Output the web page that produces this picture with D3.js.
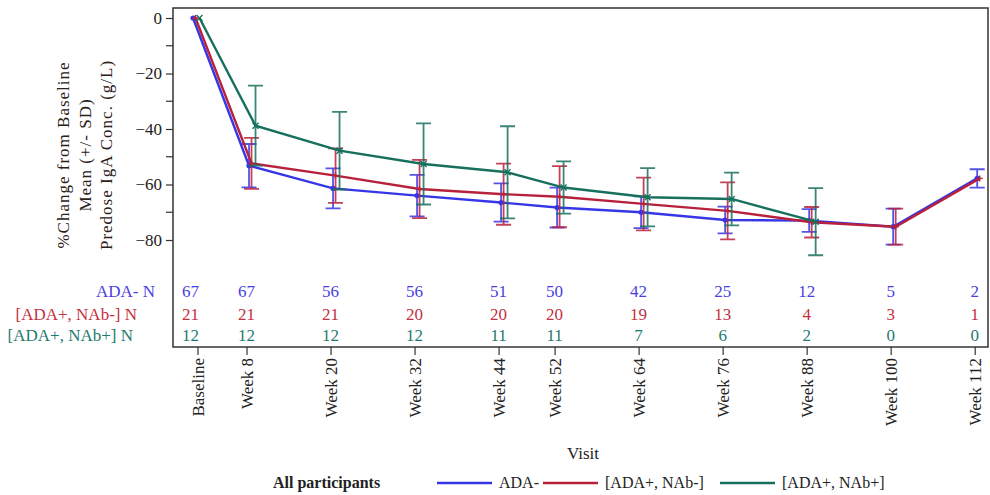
<!DOCTYPE html>
<html lang="en">
<head>
    <meta charset="UTF-8">
    <title>IgA change from baseline</title>
    <script src="https://cdn.jsdelivr.net/npm/d3@7"></script>
    <style>
        body { margin: 0; background: #fff; }
        text { font-family: "Liberation Serif", "Times New Roman", serif; }
    </style>
</head>
<body>
<script type="text/javascript">
    // data
    var visits = ['Baseline', 'Week 8', 'Week 20', 'Week 32', 'Week 44', 'Week 52', 'Week 64', 'Week 76', 'Week 88', 'Week 100', 'Week 112'];
    var weeks = [0, 8, 20, 32, 44, 52, 64, 76, 88, 100, 112];      // where the points sit
    var tickWeeks = [1, 8, 20, 32, 44, 52, 64, 76, 88, 100, 112];  // where the visit ticks sit

    var adaNegMean = [0, -53.2, -61.4, -64.0, -66.5, -68.3, -70.0, -72.8, -73.0, -75.2, -57.8];
    var adaNegSD = [0, 7.8, 7.2, 7.5, 6.9, 7.2, 5.7, 4.8, 4.1, 6.5, 3.3];
    var nabNegMean = [0, -52.4, -56.8, -61.6, -63.5, -64.4, -67.0, -69.5, -73.6, -75.2, -57.8];
    var nabNegSD = [0, 9.2, 9.8, 10.5, 11.0, 11.0, 9.5, 10.3, 5.5, 6.5, null];
    var nabPosMean = [0, -38.8, -47.8, -52.6, -55.6, -61.1, -64.6, -65.2, -73.4, null, null];
    var nabPosSD = [0, 14.4, 14.0, 14.6, 16.6, 9.4, 10.5, 9.5, 12.1, null, null];

    var adaNegN = [67, 67, 56, 56, 51, 50, 42, 25, 12, 5, 2];
    var nabNegN = [21, 21, 21, 20, 20, 20, 19, 13, 4, 3, 1];
    var nabPosN = [12, 12, 12, 12, 11, 11, 7, 6, 2, 0, 0];

    var yTicks = [0, -20, -40, -60, -80];
    var yMinorTicks = [-10, -30, -50, -70];

    var series = [
        {name: 'ADA-', label: 'ADA- N', mean: adaNegMean, sd: adaNegSD, n: adaNegN,
         color: '#3636e6', textColor: '#4a3fe0', marker: 'circle', dx: 2.5},
        {name: '[ADA+, NAb-]', label: '[ADA+, NAb-] N', mean: nabNegMean, sd: nabNegSD, n: nabNegN,
         color: '#b8213b', textColor: '#c4303f', marker: 'plus', dx: 5},
        {name: '[ADA+, NAb+]', label: '[ADA+, NAb+] N', mean: nabPosMean, sd: nabPosSD, n: nabPosN,
         color: '#17705e', textColor: '#1f7a6e', marker: 'x', dx: 9}
    ];

    var width = 990;
    var height = 495;
    var frame = {left: 173, top: 8, right: 988, bottom: 347};

    var svg = d3.select('body')
            .append('svg')
            .attr('width', width)
            .attr('height', height);

    var xScale = d3.scaleLinear()
            .domain([-2.5, 113.9])
            .range([frame.left, frame.right]);
    var yScale = d3.scaleLinear()
            .domain([0, -80])
            .range([18, 240]);

    // plot frame
    svg.append('rect')
            .attr('x', frame.left)
            .attr('y', frame.top)
            .attr('width', frame.right - frame.left)
            .attr('height', frame.bottom - frame.top)
            .attr('fill', 'none')
            .attr('stroke', '#333')
            .attr('stroke-width', 1.5);

    // y axis
    var yAxis = d3.axisLeft(yScale)
            .tickValues(yTicks)
            .tickSize(7)
            .tickPadding(4)
            .tickFormat(d3.format('d'));
    var gy = svg.append('g')
            .attr('transform', 'translate(' + frame.left + ',0)')
            .call(yAxis);
    gy.select('.domain').remove();
    gy.selectAll('line').attr('stroke', '#333').attr('stroke-width', 1.2);
    gy.selectAll('text').attr('font-size', 17).attr('fill', '#222')
            .style('font-family', '"Liberation Serif", serif');
    gy.selectAll('.minor')
            .data(yMinorTicks)
            .enter()
            .append('line')
            .attr('x1', -7).attr('x2', 0)
            .attr('y1', function (d) { return yScale(d); })
            .attr('y2', function (d) { return yScale(d); })
            .attr('stroke', '#333').attr('stroke-width', 1.2);

    // x axis at the bottom of the frame
    var xAxis = d3.axisBottom(xScale)
            .tickValues(tickWeeks)
            .tickSize(8)
            .tickFormat(function (d, i) { return visits[i]; });
    var gx = svg.append('g')
            .attr('transform', 'translate(0,' + frame.bottom + ')')
            .call(xAxis);
    gx.select('.domain').remove();
    gx.selectAll('line').attr('stroke', '#333').attr('stroke-width', 1.2);
    gx.selectAll('text')
            .attr('font-size', 17)
            .attr('fill', '#222')
            .style('font-family', '"Liberation Serif", serif')
            .attr('text-anchor', 'end')
            .attr('transform', 'rotate(-90)')
            .attr('x', -11)
            .attr('y', 0)
            .attr('dy', '0.33em');

    // lines, error bars, markers
    var line = d3.line()
            .defined(function (d) { return d.mean !== null; })
            .x(function (d) { return xScale(d.week); })
            .y(function (d) { return yScale(d.mean); });

    series.forEach(function (s) {
        var pts = weeks.map(function (w, i) {
            return {week: w, mean: s.mean[i], sd: s.sd[i]};
        });
        var g = svg.append('g')
                .attr('transform', 'translate(' + s.dx + ',0)');

        g.append('path')
                .datum(pts)
                .attr('d', line)
                .attr('fill', 'none')
                .attr('stroke', s.color)
                .attr('stroke-width', 2.4);

        var bars = pts.filter(function (d) { return d.mean !== null && d.sd; });
        var cap = 7.5;
        g.selectAll('.bar')
                .data(bars)
                .enter()
                .append('path')
                .attr('d', function (d) {
                    var x = xScale(d.week);
                    var y1 = yScale(d.mean + d.sd), y2 = yScale(d.mean - d.sd);
                    return 'M' + (x - cap) + ',' + y1 + 'H' + (x + cap) +
                            'M' + x + ',' + y1 + 'V' + y2 +
                            'M' + (x - cap) + ',' + y2 + 'H' + (x + cap);
                })
                .attr('fill', 'none')
                .attr('stroke', s.color)
                .attr('stroke-opacity', 0.85)
                .attr('stroke-width', 1.8);

        var shown = pts.filter(function (d) { return d.mean !== null; });
        if (s.marker === 'circle') {
            g.selectAll('.mk')
                    .data(shown)
                    .enter()
                    .append('circle')
                    .attr('cx', function (d) { return xScale(d.week); })
                    .attr('cy', function (d) { return yScale(d.mean); })
                    .attr('r', 2.6)
                    .attr('fill', s.color);
        } else {
            var r = 3;
            g.selectAll('.mk')
                    .data(shown)
                    .enter()
                    .append('path')
                    .attr('d', function (d) {
                        var x = xScale(d.week), y = yScale(d.mean);
                        if (s.marker === 'plus') {
                            return 'M' + (x - r) + ',' + y + 'H' + (x + r) + 'M' + x + ',' + (y - r) + 'V' + (y + r);
                        }
                        return 'M' + (x - r) + ',' + (y - r) + 'L' + (x + r) + ',' + (y + r) +
                                'M' + (x - r) + ',' + (y + r) + 'L' + (x + r) + ',' + (y - r);
                    })
                    .attr('stroke', s.color)
                    .attr('stroke-width', 1.4);
        }
    });

    // N at risk rows inside the frame
    var rowY = [297, 320, 341];
    var labelEnd = [155, 137, 133];
    series.forEach(function (s, k) {
        svg.append('text')
                .attr('x', labelEnd[k])
                .attr('y', rowY[k])
                .attr('text-anchor', 'end')
                .attr('font-size', 17)
                .attr('fill', s.textColor)
                .text(s.label);
        svg.selectAll('.n' + k)
                .data(s.n)
                .enter()
                .append('text')
                .attr('x', function (d, i) { return xScale(weeks[i]); })
                .attr('y', rowY[k])
                .attr('text-anchor', 'middle')
                .attr('font-size', 17)
                .attr('fill', s.textColor)
                .text(function (d) { return d; });
    });

    // y axis title
    var yTitle = ['%Change from Baseline', 'Mean (+/- SD)', 'Predose IgA Conc. (g/L)'];
    var titleX = [69, 91, 112];
    yTitle.forEach(function (t, i) {
        svg.append('text')
                .attr('transform', 'translate(' + titleX[i] + ',155) rotate(-90)')
                .attr('text-anchor', 'middle')
                .attr('font-size', 17)
                .attr('letter-spacing', 1)
                .attr('fill', '#2a2018')
                .text(t);
    });

    // x axis title
    svg.append('text')
            .attr('x', 583)
            .attr('y', 459)
            .attr('text-anchor', 'middle')
            .attr('font-size', 17)
            .attr('fill', '#222')
            .text('Visit');

    // legend
    var legend = svg.append('g').attr('transform', 'translate(0,488)');
    legend.append('text')
            .attr('x', 273)
            .attr('y', 0)
            .attr('font-size', 16)
            .attr('font-weight', 'bold')
            .attr('fill', '#222')
            .text('All participants');
    var legendX = [437, 543, 720];
    series.forEach(function (s, k) {
        legend.append('line')
                .attr('x1', legendX[k]).attr('x2', legendX[k] + 55)
                .attr('y1', -5).attr('y2', -5)
                .attr('stroke', s.color)
                .attr('stroke-width', 2.4);
        legend.append('text')
                .attr('x', legendX[k] + 62)
                .attr('y', 0)
                .attr('font-size', 16)
                .attr('fill', '#222')
                .text(s.name);
    });
</script>
</body>
</html>
